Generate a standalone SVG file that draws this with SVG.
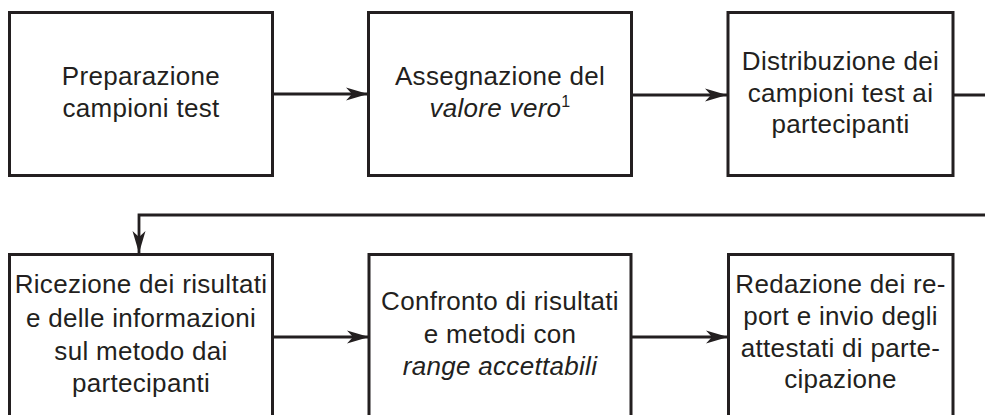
<svg xmlns="http://www.w3.org/2000/svg" width="985" height="415" viewBox="0 0 985 415">
<defs>
<style>
.box{fill:#fff;stroke:#231f20;stroke-width:3}
.c{fill:none;stroke:#231f20;stroke-width:2.8}
text{font-family:"Liberation Sans",Arial,Helvetica,sans-serif;font-size:26px;letter-spacing:0.3px;fill:#231f20;text-anchor:middle}
.i{font-style:italic}
</style>
<marker id="ah" markerUnits="userSpaceOnUse" markerWidth="24" markerHeight="14" refX="22" refY="7" orient="auto">
<path d="M0,0.5 L22,7 L0,13.5 L6,7 Z" fill="#231f20"/>
</marker>
</defs>
<rect width="985" height="415" fill="#fff"/>
<g id="connectors">
<path class="c" d="M272,94 H368" marker-end="url(#ah)"/>
<path class="c" d="M632,95 H727" marker-end="url(#ah)"/>
<path class="c" d="M953,95 H990"/>
<path class="c" d="M990,215 H139 V253" marker-end="url(#ah)"/>
<path class="c" d="M272,337 H369" marker-end="url(#ah)"/>
<path class="c" d="M631,337 H728" marker-end="url(#ah)"/>
</g>
<g id="n1">
<rect class="box" x="9.5" y="12.5" width="263" height="163"/>
<text x="141" y="85">Preparazione</text>
<text x="141" y="117">campioni test</text>
</g>
<g id="n2">
<rect class="box" x="368.5" y="12.5" width="263" height="163"/>
<text x="500" y="85">Assegnazione del</text>
<text x="500" y="117"><tspan class="i">valore vero</tspan><tspan font-size="16" dy="-10">1</tspan></text>
</g>
<g id="n3">
<rect class="box" x="728" y="12.5" width="225" height="163"/>
<text x="840.5" y="70">Distribuzione dei</text>
<text x="840.5" y="102">campioni test ai</text>
<text x="840.5" y="133">partecipanti</text>
</g>
<g id="n4">
<rect class="box" x="9.5" y="254.5" width="263" height="170"/>
<text x="141" y="293">Ricezione dei risultati</text>
<text x="141" y="327">e delle informazioni</text>
<text x="141" y="360">sul metodo dai</text>
<text x="141" y="392">partecipanti</text>
</g>
<g id="n5">
<rect class="box" x="369" y="254.5" width="262" height="170"/>
<text x="500" y="310">Confronto di risultati</text>
<text x="500" y="343">e metodi con</text>
<text x="500" y="375" class="i">range accettabili</text>
</g>
<g id="n6">
<rect class="box" x="728.5" y="254.5" width="224.5" height="170"/>
<text x="840.5" y="293">Redazione dei re-</text>
<text x="840.5" y="325">port e invio degli</text>
<text x="840.5" y="357">attestati di parte-</text>
<text x="840.5" y="388">cipazione</text>
</g>
</svg>
